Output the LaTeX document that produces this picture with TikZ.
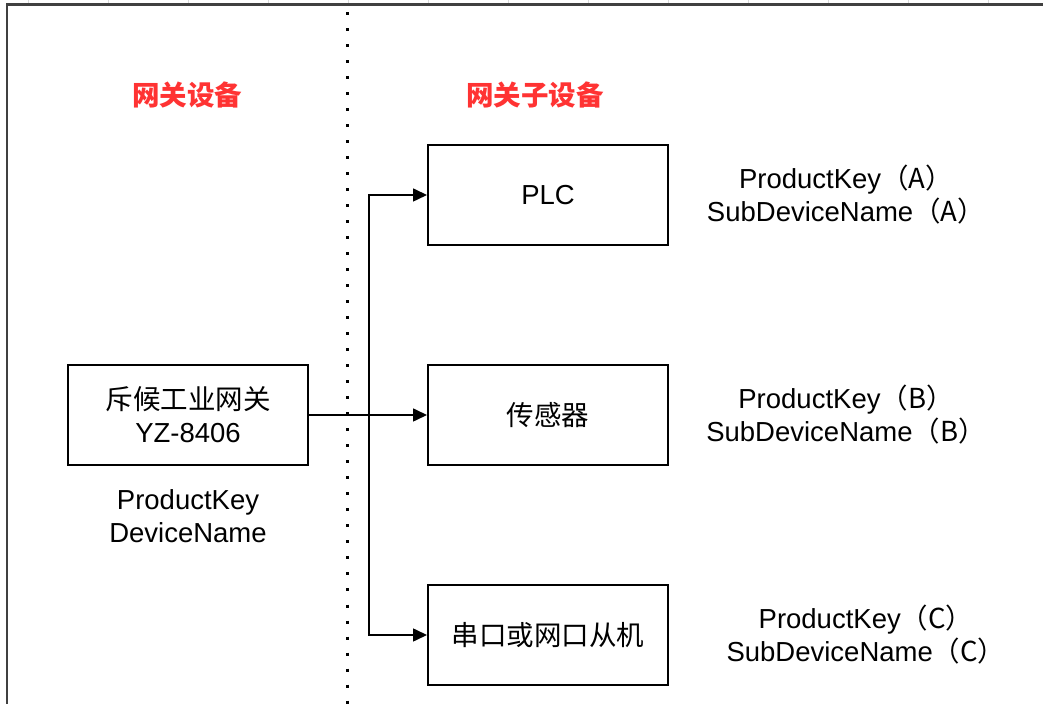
\documentclass[tikz,border=0pt]{standalone}
\usepackage{fontspec}
\setmainfont{Liberation Sans}
\newfontfamily\cjk{Noto Sans CJK SC}
\usetikzlibrary{arrows.meta,positioning}
\definecolor{titlered}{HTML}{FF3333}

\begin{document}
\begin{tikzpicture}[
	x=0.5pt, y=-0.5pt,
	node distance=110pt,
	on grid,
	align=center,
	font=\fontsize{13.75}{16.5}\selectfont,
	device/.style={
		rectangle,
		draw,
		line width=1pt,
		minimum width=120pt,
		minimum height=50pt
	},
	title/.style={
		text=titlered,
		font=\cjk\bfseries\fontsize{13.75}{16.5}\selectfont
	},
	arr/.style={
		-{Triangle[length=7pt,width=6.5pt]},
		line width=0.8pt
	}]

   \useasboundingbox (0,0) rectangle (1043,704);
   % grid ticks and frame
   \foreach \x in {28,108,...,988}
     \draw[gray!30, line width=0.5pt] (\x,0) -- (\x,3);
   \draw[black!75, line width=1.3pt] (7,704) -- (7,4.5) -- (1043,4.5);
   \draw[line width=1.5pt, dash pattern=on 1.5pt off 6.5pt] (347,12.5) -- (347,704);

   \node[title] (t_gw)  at (187,95) {网关设备};
   \node[title] (t_sub) at (535,95) {网关子设备};

   \node[device] (gw)  at (188,415) {{\cjk 斥候工业网关}\\YZ-8406};
   \node[below=50.5pt of gw] (gw_key) {ProductKey\\DeviceName};

   \node[device] (plc) at (548,195) {PLC};
   \node[device, below=of plc] (sensor) {\cjk 传感器};
   \node[device, below=of sensor] (serial) {\cjk 串口或网口从机};

   \node[right=149pt of plc]    (plc_key)    {ProductKey{\cjk （A）}\\SubDeviceName{\cjk （A）}};
   \node[right=149pt of sensor] (sensor_key) {ProductKey{\cjk （B）}\\SubDeviceName{\cjk （B）}};
   \node[right=159pt of serial] (serial_key) {ProductKey{\cjk （C）}\\SubDeviceName{\cjk （C）}};

   \coordinate (split) at (369,415);
   \draw[arr] (gw.east) -- (sensor.west);
   \draw[arr] (split) |- (plc.west);
   \draw[arr] (split) |- (serial.west);
\end{tikzpicture}
\end{document}
